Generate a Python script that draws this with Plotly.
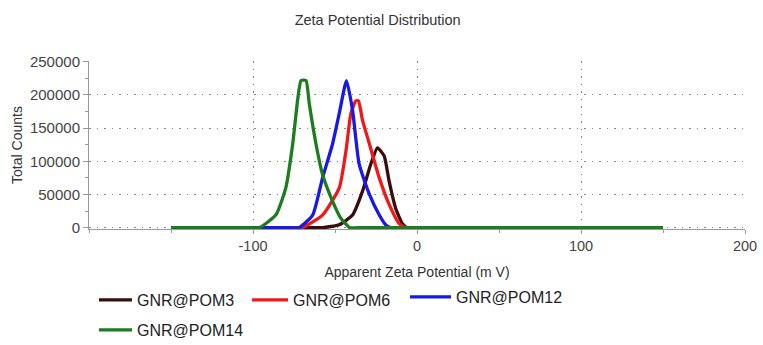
import plotly.graph_objects as go

# ---- data ----
pom3_x = [-150, -130, -62, -57.6, -47.4, -39.3, -33.2, -28.2, -24.1, -20.0, -17.0, -13.0, -9.0, -6.0, -2.0, 130, 150]
pom3_y = [0, 0, 0, 0, 4500, 19000, 55000, 95500, 120000, 108000, 70000, 29000, 6500, 0, 0, 0, 0]

pom6_x = [-150, -130, -75, -70.0, -57.6, -47.4, -43.3, -40.3, -37.3, -35.7, -33.2, -29.0, -23.0, -17.0, -11.0, -6.9, -2.0, 130, 150]
pom6_y = [0, 0, 0, 0, 19000, 60000, 116000, 172000, 191000, 191000, 161500, 126000, 75000, 35000, 6500, 0, 0, 0, 0]

pom12_x = [-150, -130, -77, -72.0, -63.6, -57.6, -51.5, -47.4, -43.0, -39.3, -35.3, -29.0, -23.0, -19.0, -16.0, -11.0, 130, 150]
pom12_y = [0, 0, 0, 0, 19000, 75000, 126000, 172000, 221500, 177000, 96000, 50000, 19000, 4000, 0, 0, 0, 0]

pom14_x = [-150, -130, -101, -96.0, -86.0, -80.0, -75.8, -72.8, -70.7, -67.7, -65.7, -61.6, -57.6, -51.5, -46.4, -41.0, -36.0, 130, 150]
pom14_y = [0, 0, 0, 0, 19400, 60000, 126000, 192000, 221500, 221500, 187000, 126000, 80000, 40000, 14000, 0, 0, 0, 0]

names = ["GNR@POM3", "GNR@POM6", "GNR@POM12", "GNR@POM14"]
colors = ["#3a0d0d", "#f01818", "#1818e8", "#1c7d1c"]

x_ticks = [-100, 0, 100, 200]
y_ticks = [0, 50000, 100000, 150000, 200000, 250000]

series = [(pom3_x, pom3_y), (pom6_x, pom6_y), (pom12_x, pom12_y), (pom14_x, pom14_y)]

# one legend box per entry (pixel anchor positions in the page, symbol-area width)
legend_ids = ["legend", "legend2", "legend3", "legend4"]
legend_pos = [(94, 300, 33), (247, 300, 36), (405, 297, 41), (94, 330, 33)]

fig = go.Figure()
for (xs, ys), nm, c, lid in zip(series, names, colors, legend_ids):
    fig.add_trace(go.Scatter(
        x=xs, y=ys, mode="lines", name=nm,
        line=dict(color=c, width=3.3, shape="spline", smoothing=0.5),
        legend=lid,
    ))

legend_layout = {}
for lid, (px, py, iw) in zip(legend_ids, legend_pos):
    legend_layout[lid] = dict(
        orientation="h", xref="container", yref="container",
        x=px / 763, xanchor="left", y=1 - py / 345, yanchor="middle",
        itemwidth=iw,
        font=dict(size=16, color="#222"), bgcolor="rgba(0,0,0,0)",
    )

grid_dash = "1.5px,6px"
fig.update_layout(
    width=763, height=345,
    margin=dict(l=88.5, r=18, t=60.5, b=116),
    paper_bgcolor="white", plot_bgcolor="white",
    font=dict(family="Liberation Sans, Arial, sans-serif", color="#333"),
    title=dict(text="Zeta Potential Distribution", x=0.495, xanchor="center",
               y=1 - 20 / 345, yanchor="middle", font=dict(size=14.5, color="#333")),
    showlegend=True,
    **legend_layout,
)

fig.update_xaxes(
    range=[-200, 200], tickvals=x_ticks, ticktext=[str(v) for v in x_ticks],
    showline=True, linecolor="#999", linewidth=1,
    ticks="outside", ticklen=4, tickcolor="#999",
    minor=dict(dtick=50, ticks="outside", ticklen=3, tickcolor="#999", showgrid=False),
    showgrid=True, gridcolor="#888", gridwidth=1.3, griddash=grid_dash,
    zeroline=False,
    tickfont=dict(size=14.5, color="#444"),
    title=dict(text="Apparent Zeta Potential (m V)", font=dict(size=14, color="#333"), standoff=13),
    automargin=False,
)
fig.update_yaxes(
    range=[-2000, 251000], tickvals=y_ticks, ticktext=[str(v) for v in y_ticks],
    showline=True, linecolor="#999", linewidth=1,
    ticks="outside", ticklen=5, tickcolor="#999",
    minor=dict(dtick=25000, ticks="outside", ticklen=3, tickcolor="#999", showgrid=False),
    showgrid=True, gridcolor="#888", gridwidth=1.3, griddash=grid_dash,
    zeroline=False,
    tickfont=dict(size=15, color="#444"),
    title=dict(text="Total Counts", font=dict(size=14, color="#333"), standoff=4),
    automargin=False,
)

fig.write_html("out.html")
